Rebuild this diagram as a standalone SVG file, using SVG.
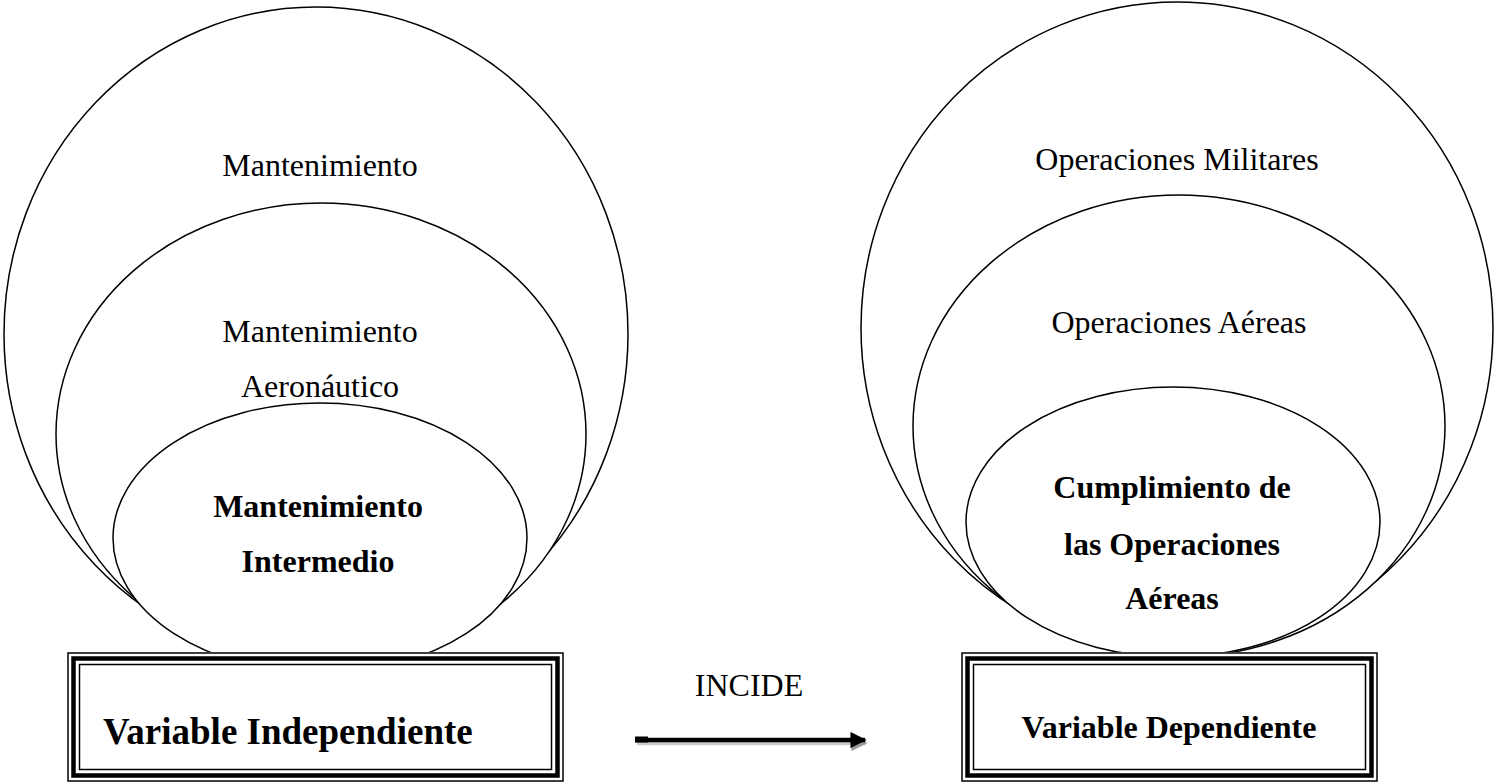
<svg xmlns="http://www.w3.org/2000/svg" width="1495" height="783" viewBox="0 0 1495 783">
<style>
  .ell { fill: #ffffff; stroke: #000000; stroke-width: 1.5; }
  .t { font-family: "Liberation Serif", "Times New Roman", serif; font-size: 32px; fill: #000000; text-anchor: middle; }
  .b { font-weight: bold; }
  .thin { fill: none; stroke: #000000; stroke-width: 1.5; }
  .thick { fill: none; stroke: #000000; stroke-width: 4.5; }
  .bg { fill: #ffffff; stroke: none; }
</style>
<defs>
  <marker id="ah" viewBox="0 0 10 10" refX="9" refY="5" markerWidth="4" markerHeight="3.6" markerUnits="strokeWidth" orient="auto">
    <path d="M0,0 L10,5 L0,10 Z" fill="#000000"/>
  </marker>
  <marker id="ahs" viewBox="0 0 10 10" refX="9" refY="5" markerWidth="4" markerHeight="3.6" markerUnits="strokeWidth" orient="auto">
    <path d="M0,0 L10,5 L0,10 Z" fill="#9a9a9a"/>
  </marker>
</defs>

<!-- Left group -->
<g id="mantenimiento">
  <ellipse class="ell" cx="316" cy="334" rx="312" ry="327"/>
  <text class="t" x="320" y="176">Mantenimiento</text>
</g>
<g id="mantenimiento-aeronautico">
  <ellipse class="ell" cx="321" cy="434" rx="265" ry="231"/>
  <text class="t" x="320" y="342">Mantenimiento</text>
  <text class="t" x="320" y="397">Aeronáutico</text>
</g>
<g id="mantenimiento-intermedio">
  <ellipse class="ell" cx="320" cy="538" rx="207" ry="135"/>
  <text class="t b" x="318" y="517">Mantenimiento</text>
  <text class="t b" x="318" y="572">Intermedio</text>
</g>

<!-- Right group -->
<g id="operaciones-militares">
  <ellipse class="ell" cx="1177" cy="328" rx="316" ry="326"/>
  <text class="t" x="1177" y="170">Operaciones Militares</text>
</g>
<g id="operaciones-aereas">
  <ellipse class="ell" cx="1179" cy="426" rx="266" ry="231"/>
  <text class="t" x="1179" y="333">Operaciones Aéreas</text>
</g>
<g id="cumplimiento">
  <ellipse class="ell" cx="1173" cy="522" rx="207" ry="135"/>
  <text class="t b" x="1172" y="498">Cumplimiento de</text>
  <text class="t b" x="1172" y="555">las Operaciones</text>
  <text class="t b" x="1172" y="609">Aéreas</text>
</g>

<!-- Boxes -->
<g id="variable-independiente">
  <rect class="bg" x="67" y="652" width="497" height="130"/>
  <rect class="thin" x="68" y="653" width="495" height="128"/>
  <rect class="thick" x="73.5" y="658.5" width="484" height="117"/>
  <rect class="thin" x="79.5" y="664.5" width="472" height="105"/>
  <text class="t b" x="103" y="744" style="text-anchor:start;font-size:37px">Variable Independiente</text>
</g>
<g id="variable-dependiente">
  <rect class="bg" x="961" y="652" width="417" height="130"/>
  <rect class="thin" x="962" y="653" width="415" height="128"/>
  <rect class="thick" x="967.5" y="658.5" width="404" height="117"/>
  <rect class="thin" x="973.5" y="664.5" width="392" height="105"/>
  <text class="t b" x="1169" y="738">Variable Dependiente</text>
</g>

<!-- Connector -->
<g id="connectors">
  <line x1="637" y1="743" x2="866" y2="743" stroke="#9a9a9a" stroke-opacity="0.5" stroke-width="4.5" marker-end="url(#ahs)"/>
  <line x1="635" y1="740" x2="865" y2="740" stroke="#000000" stroke-width="4.5" marker-end="url(#ah)"/>
  <rect x="635" y="736.5" width="13" height="6" fill="#000000"/>
  <text class="t" x="749" y="696">INCIDE</text>
</g>
</svg>
